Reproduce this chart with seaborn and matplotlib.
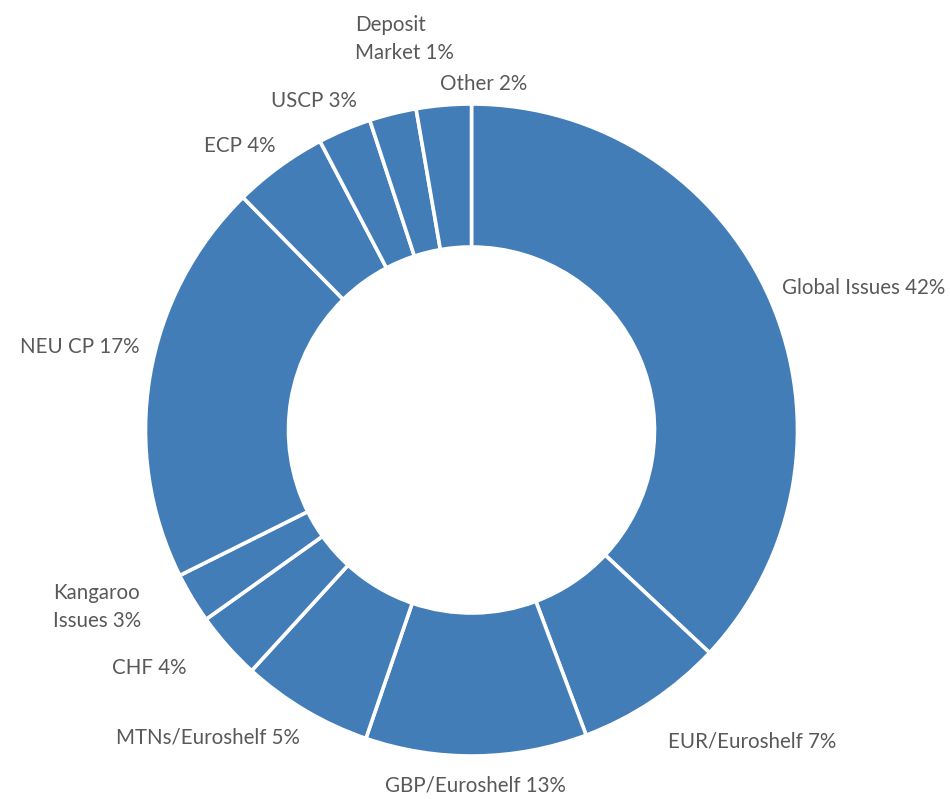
import numpy as np
import pandas as pd
import matplotlib.pyplot as plt
import seaborn as sns

categories = ["Global Issues", "EUR/Euroshelf", "GBP/Euroshelf", "MTNs/Euroshelf", "CHF",
              "Kangaroo Issues", "NEU CP", "ECP", "USCP", "Deposit Market", "Other"]
shares = [36.97, 7.31, 10.97, 6.53, 3.36, 2.50, 20.00, 4.67, 2.64, 2.33, 2.72]
label_texts = ["Global Issues 42%", "EUR/Euroshelf 7%", "GBP/Euroshelf 13%", "MTNs/Euroshelf 5%",
               "CHF 4%", "Kangaroo\nIssues 3%", "NEU CP 17%", "ECP 4%", "USCP 3%",
               "Deposit\nMarket 1%", "Other 2%"]

df = pd.DataFrame({"category": categories, "share": shares, "label": label_texts})

# label anchors in image pixels (x, y from top) and horizontal alignment
label_pos = [(782, 288, "left"), (668, 742, "left"), (385, 785, "left"), (300, 737, "right"),
             (186, 668, "right"), (53, 607, "left"), (140, 347, "right"), (276, 146, "right"),
             (357, 101, "right"), (355, 39, "left"), (440, 84, "left")]

sns.set_theme(style="white")
plt.rcParams['font.family'] = ['Lato', 'DejaVu Sans']

W, H = 950, 799
fig = plt.figure(figsize=(W / 100, H / 100), dpi=100)
ax = fig.add_axes([0, 0, 1, 1])

cx, cy = 471.5, H - 430
r_out, r_in = 326, 183
ax.pie(df["share"], startangle=90, counterclock=False, center=(cx, cy), radius=r_out,
       colors=["#427db8"] * len(df),
       wedgeprops=dict(width=r_out - r_in, edgecolor="white", linewidth=2.6))

for (x, y, ha), txt in zip(label_pos, df["label"]):
    ax.text(x, H - y, txt, ha=ha, va="center", fontsize=14.8, color="#595959",
            linespacing=1.5, multialignment="left")

ax.set_xlim(0, W)
ax.set_ylim(0, H)
ax.set_aspect("equal")
ax.axis("off")

fig.savefig("out.png", dpi=100, facecolor="white")
